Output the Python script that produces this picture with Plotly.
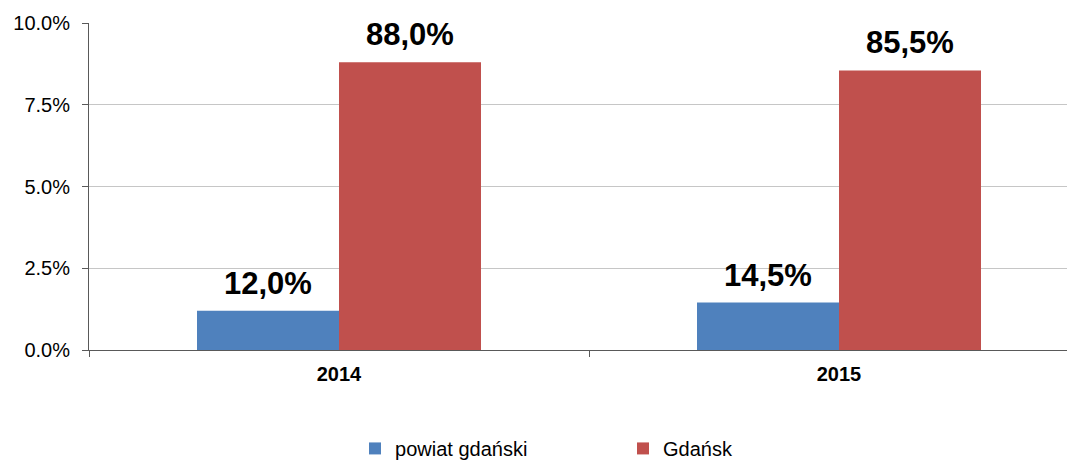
import plotly.graph_objects as go

years = ["2014", "2015"]
powiat = [1.2, 1.45]
gdansk = [8.8, 8.55]
powiat_labels = ["12,0%", "14,5%"]
gdansk_labels = ["88,0%", "85,5%"]
y_ticks = [0, 2.5, 5.0, 7.5, 10.0]

FONT = "Arial, Liberation Sans, sans-serif"
BAR_PX = 142  # approx bar width in pixels, used for label offsets

fig = go.Figure()
fig.add_trace(go.Bar(x=years, y=powiat, name="powiat gdański",
                     marker_color="#4F81BD", marker_line_width=0))
fig.add_trace(go.Bar(x=years, y=gdansk, name="Gdańsk",
                     marker_color="#C0504D", marker_line_width=0))

# value labels above bars (x as category index)
label_font = dict(family=FONT, size=31, color="black", weight="bold")
for i, (v, t) in enumerate(zip(powiat, powiat_labels)):
    fig.add_annotation(x=i, y=v, xref="x", yref="y", text=t, showarrow=False,
                       xshift=-BAR_PX / 2, yanchor="bottom", yshift=8, font=label_font)
for i, (v, t) in enumerate(zip(gdansk, gdansk_labels)):
    fig.add_annotation(x=i, y=v, xref="x", yref="y", text=t, showarrow=False,
                       xshift=BAR_PX / 2, yanchor="bottom", yshift=8, font=label_font)

# page body has an 8px margin, so the figure is sized to fit inside the window
fig.update_layout(
    width=1059, height=455,
    margin=dict(l=81, r=0, t=15, b=113, autoexpand=False),
    paper_bgcolor="white", plot_bgcolor="white",
    barmode="group", bargap=0.432, bargroupgap=0,
    font=dict(family=FONT, color="black"),
    showlegend=True,
    legend=dict(orientation="h", x=0.272, xanchor="left",
                y=-0.301, yanchor="middle",
                entrywidth=223, entrywidthmode="pixels",
                font=dict(family=FONT, size=20, color="black"),
                itemwidth=30, traceorder="normal"),
)
fig.update_xaxes(
    type="category", range=[-0.5, 1.456], automargin=False,
    showline=True, linecolor="#595959", linewidth=1,
    ticks="outside", tickson="boundaries", ticklen=6, tickcolor="#595959",
    tickfont=dict(family=FONT, size=20, color="black", weight="bold"),
    showgrid=False, ticklabelstandoff=6,
)
fig.update_yaxes(
    range=[0, 10], tickvals=y_ticks, automargin=False,
    ticktext=[f"{v:.1f}%" for v in y_ticks],
    showline=True, linecolor="#595959", linewidth=1,
    ticks="outside", ticklen=6, tickcolor="#595959",
    tickfont=dict(family=FONT, size=20, color="black"),
    showgrid=True, gridcolor="#c6c6c6", gridwidth=1,
    zeroline=False, ticklabelstandoff=8,
)

fig.write_html("out.html")
